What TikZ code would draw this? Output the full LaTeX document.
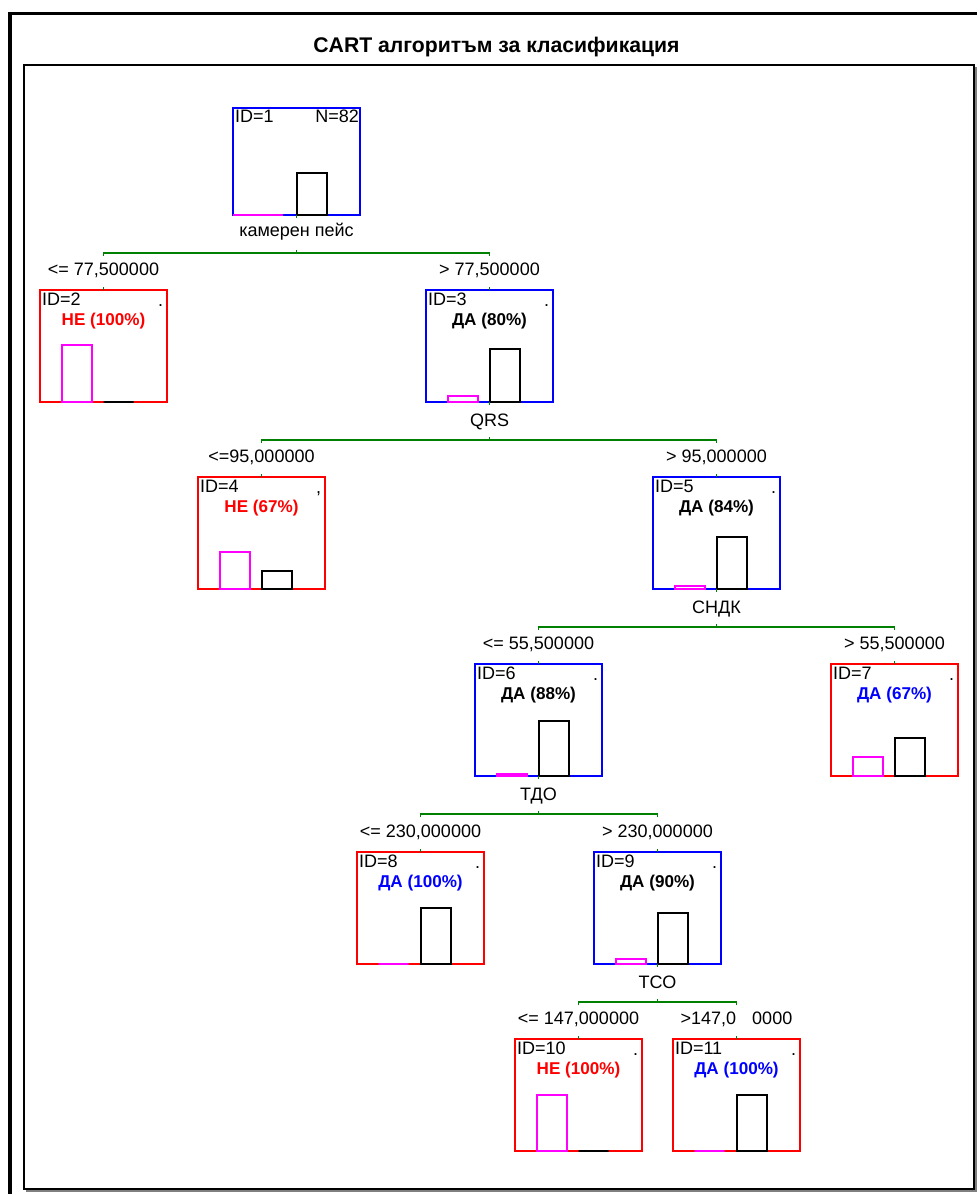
\documentclass[tikz,border=0pt]{standalone}
\usepackage{fontspec}
\setmainfont{Liberation Sans}
\definecolor{tblue}{RGB}{0,0,255}
\definecolor{tred}{RGB}{255,0,0}
\definecolor{tmag}{RGB}{255,0,255}
\definecolor{tgreen}{RGB}{0,128,0}
\tikzset{
  txt/.style={inner sep=0pt, outer sep=0pt, font=\fontsize{18}{20}\selectfont},
  cls/.style={txt, font=\fontsize{17.1}{19}\selectfont\bfseries, text=#1},
  treebox/.style={draw=#1, line width=2pt, inner sep=0pt, outer sep=0pt,
    minimum width=127pt, minimum height=112pt, anchor=north west},
  magbar/.style={draw=tmag, line width=2pt},
  blkbar/.style={draw=black, line width=2pt},
  conn/.style={draw=tgreen, line width=1.6pt},
}
% histogram bars under a box: #1 box name, #2 magenta height, #3 black height
\newcommand{\histbars}[3]{%
  \draw[magbar] ([shift={(-42,0)}]#1.south) rectangle ++(30,-#2);
  \draw[blkbar] (#1.south) rectangle ++(30,-#3);
}
% box header: #1 box name, #2 id text, #3 corner mark
\newcommand{\boxhead}[3]{%
  \node[txt, anchor=base west] at ([shift={(2,15)}]#1.north west) {#2};
  \node[txt, anchor=base east] at ([shift={(-4,16)}]#1.north east) {#3};
}
% split connector: #1 parent, #2 left child, #3 right child, #4 name
\newcommand{\splitconn}[4]{%
  \coordinate (#4) at ([shift={(0,38)}]#1.south);
  \coordinate (#4l) at (#2.north |- #4);
  \coordinate (#4r) at (#3.north |- #4);
  \draw[conn] (#1.south) -- ++(0,3);
  \draw[conn] (#4) -- ++(0,-3);
  \draw[conn] ([shift={(0,3)}]#4l) -- (#4l) -- (#4r) -- ++(0,3);
  \draw[conn] (#2.north) -- ++(0,-3);
  \draw[conn] (#3.north) -- ++(0,-3);
}
\begin{document}
\begin{tikzpicture}[x=1pt, y=-1pt]
\useasboundingbox (0,0) rectangle (977,1194);
\fill[white] (0,0) rectangle (977,1194);

% outer and inner frames
\draw[line width=3.6pt] (10,1200) -- (10,13.5) -- (990,13.5);
\draw[gray, line width=1.5pt] (26,1191) -- (976,1191) -- (976,67);
\draw[line width=1.5pt] (24,65) rectangle (974,1189);

\node[txt, font=\fontsize{21.2}{24}\selectfont\bfseries, anchor=base] (title) at (496.5,52) {CART алгоритъм за класификация};

% tree boxes
\node[treebox=tblue, minimum height=107pt] (b1) at (233,108) {};
\node[treebox=tred]  (b2)  at (40,290)   {};
\node[treebox=tblue] (b3)  at (426,290)  {};
\node[treebox=tred]  (b4)  at (198,477)  {};
\node[treebox=tblue] (b5)  at (653,477)  {};
\node[treebox=tblue] (b6)  at (475,664)  {};
\node[treebox=tred]  (b7)  at (831,664)  {};
\node[treebox=tred]  (b8)  at (357,852)  {};
\node[treebox=tblue] (b9)  at (594,852)  {};
\node[treebox=tred]  (b10) at (515,1039) {};
\node[treebox=tred]  (b11) at (673,1039) {};

% root box contents
\node[txt, anchor=base west] at ([shift={(2,14)}]b1.north west) {ID=1};
\node[txt, anchor=base east] at ([shift={(-1,14)}]b1.north east) {N=82};
\draw[magbar] (b1.south west) -- ++(50,0);
\draw[blkbar] (b1.south) rectangle ++(30,-42);

% headers and class labels
\boxhead{b2}{ID=2}{.}
\boxhead{b3}{ID=3}{.}
\boxhead{b4}{ID=4}{,}
\boxhead{b5}{ID=5}{.}
\boxhead{b6}{ID=6}{.}
\boxhead{b7}{ID=7}{.}
\boxhead{b8}{ID=8}{.}
\boxhead{b9}{ID=9}{.}
\boxhead{b10}{ID=10}{.}
\boxhead{b11}{ID=11}{.}

\node[cls=tred,  anchor=base] at ([shift={(0,35)}]b2.north)  {НЕ (100\%)};
\node[cls=black, anchor=base] at ([shift={(0,35)}]b3.north)  {ДА (80\%)};
\node[cls=tred,  anchor=base] at ([shift={(0,35)}]b4.north)  {НЕ (67\%)};
\node[cls=black, anchor=base] at ([shift={(0,35)}]b5.north)  {ДА (84\%)};
\node[cls=black, anchor=base] at ([shift={(0,35)}]b6.north)  {ДА (88\%)};
\node[cls=tblue, anchor=base] at ([shift={(0,35)}]b7.north)  {ДА (67\%)};
\node[cls=tblue, anchor=base] at ([shift={(0,35)}]b8.north)  {ДА (100\%)};
\node[cls=black, anchor=base] at ([shift={(0,35)}]b9.north)  {ДА (90\%)};
\node[cls=tred,  anchor=base] at ([shift={(0,35)}]b10.north) {НЕ (100\%)};
\node[cls=tblue, anchor=base] at ([shift={(0,35)}]b11.north) {ДА (100\%)};

% histograms
\histbars{b2}{57}{0}
\histbars{b3}{6}{53}
\histbars{b4}{37}{18}
\histbars{b5}{3}{52}
\histbars{b6}{2}{55}
\histbars{b7}{19}{38}
\histbars{b8}{0}{56}
\histbars{b9}{5}{51}
\histbars{b10}{56}{0}
\histbars{b11}{0}{56}

% split variables
\node[txt, anchor=base] at ([shift={(0,21)}]b1.south) {камерен пейс};
\node[txt, anchor=base] at ([shift={(0,24)}]b3.south) {QRS};
\node[txt, anchor=base] at ([shift={(0,24)}]b5.south) {СНДК};
\node[txt, anchor=base] at ([shift={(0,24)}]b6.south) {ТДО};
\node[txt, anchor=base] at ([shift={(0,24)}]b9.south) {ТСО};

% connectors
\splitconn{b1}{b2}{b3}{s1}
\splitconn{b3}{b4}{b5}{s3}
\splitconn{b5}{b6}{b7}{s5}
\splitconn{b6}{b8}{b9}{s6}
\splitconn{b9}{b10}{b11}{s9}

% split conditions
\node[txt, anchor=base] at ([shift={(0,-15)}]b2.north)  {<= 77,500000};
\node[txt, anchor=base] at ([shift={(0,-15)}]b3.north)  {> 77,500000};
\node[txt, anchor=base] at ([shift={(0,-15)}]b4.north)  {<=95,000000};
\node[txt, anchor=base] at ([shift={(0,-15)}]b5.north)  {> 95,000000};
\node[txt, anchor=base] at ([shift={(0,-15)}]b6.north)  {<= 55,500000};
\node[txt, anchor=base] at ([shift={(0,-15)}]b7.north)  {> 55,500000};
\node[txt, anchor=base] at ([shift={(0,-15)}]b8.north)  {<= 230,000000};
\node[txt, anchor=base] at ([shift={(0,-15)}]b9.north)  {> 230,000000};
\node[txt, anchor=base] at ([shift={(0,-15)}]b10.north) {<= 147,000000};
\node[txt, anchor=base] at ([shift={(0,-15)}]b11.north) {>147,0\hspace{16pt}0000};
\end{tikzpicture}
\end{document}
